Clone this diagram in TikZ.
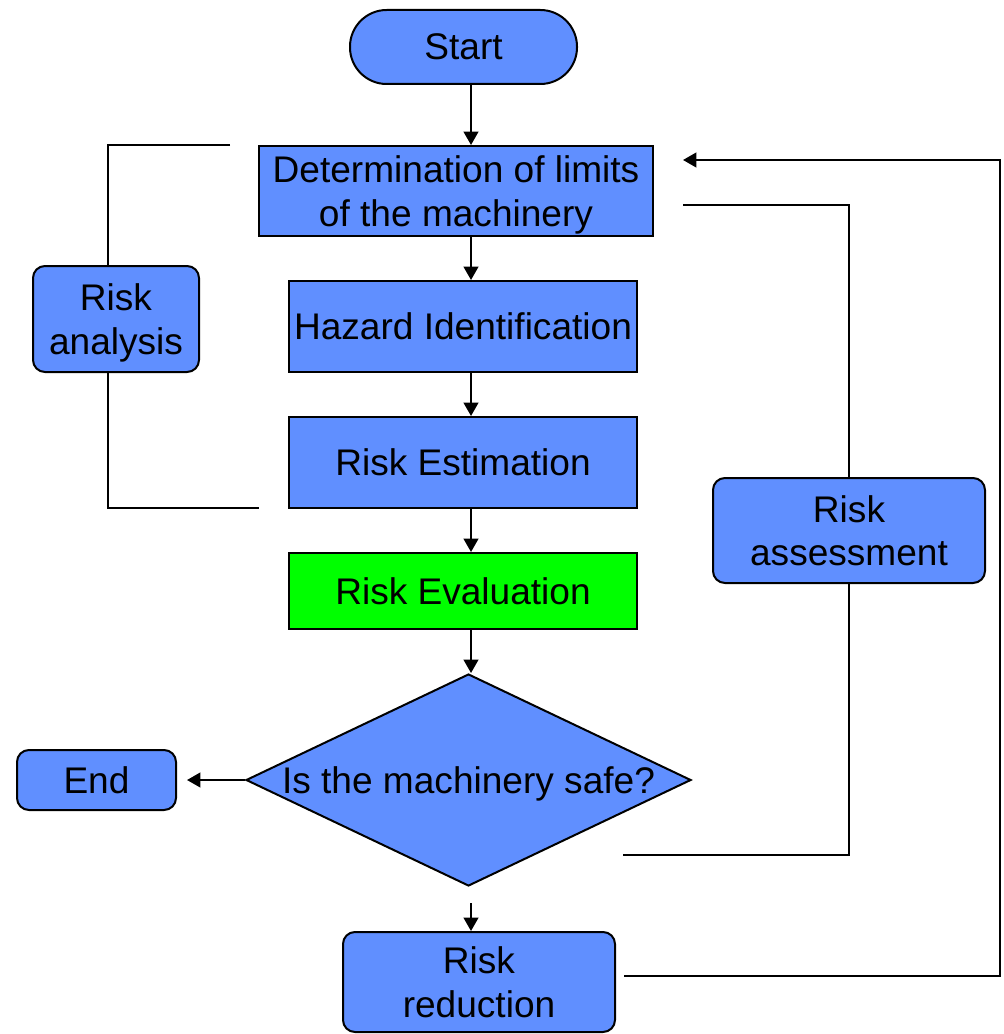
\documentclass[tikz,border=0pt]{standalone}
\usepackage{fontspec}
\setmainfont{Liberation Sans}
\usetikzlibrary{shapes.geometric,arrows.meta}
\definecolor{boxblue}{RGB}{96,143,255}
\definecolor{boxgreen}{RGB}{0,255,0}
\begin{document}
\begin{tikzpicture}[x=0.75pt,y=-0.75pt,
  every node/.style={font=\fontsize{27.8}{32.5}\selectfont},
  base/.style={draw=black, line width=1.5pt, fill=boxblue, inner sep=0pt, align=center, text depth=0pt},
  sqbox/.style={base},
  rbox/.style={base, rounded corners=9pt},
  conn/.style={line width=1.5pt, draw=black},
  arr/.style={conn, -{Triangle[width=11pt,length=10pt]}},
]
\useasboundingbox (0,0) rectangle (1003,1034);

\node[base, rounded corners=27.5pt, minimum width=227*0.75pt, minimum height=74*0.75pt] (start) at (463.5,47) {Start};
\node[sqbox, minimum width=394*0.75pt, minimum height=90*0.75pt] (det) at (456,191) {Determination of limits\\of the machinery};
\node[sqbox, minimum width=348*0.75pt, minimum height=91*0.75pt] (haz) at (463,326.5) {Hazard Identification};
\node[sqbox, minimum width=348*0.75pt, minimum height=91*0.75pt] (est) at (463,462.5) {Risk Estimation};
\node[sqbox, fill=boxgreen, minimum width=348*0.75pt, minimum height=76*0.75pt] (eval) at (463,591) {Risk Evaluation};
\node[base, diamond, aspect=2.1, minimum width=445*0.75pt, minimum height=212*0.75pt] (dia) at (468.5,780) {\makebox[0pt]{Is the machinery safe?}};
\node[rbox, minimum width=159*0.75pt, minimum height=60*0.75pt] (end) at (96.5,780) {End};
\node[rbox, minimum width=272*0.75pt, minimum height=100*0.75pt] (red) at (479,982) {Risk\\reduction};
\node[rbox, minimum width=166*0.75pt, minimum height=106*0.75pt] (ana) at (116,319) {Risk\\analysis};
\node[rbox, minimum width=272*0.75pt, minimum height=105*0.75pt] (ass) at (849,530.5) {Risk\\assessment};

\coordinate (ax) at (471,0);
\coordinate (lx) at (108,0);
\coordinate (lt) at (230,145);
\coordinate (lb) at (259,508);
\coordinate (rt) at (683,205);
\coordinate (rb) at (623,855);
\coordinate (fb1) at (1000,976);
\coordinate (fb2) at (1000,160);
\coordinate (fbend) at (683,160);

\draw[arr] (start.south -| ax) -- (det.north -| ax);
\draw[arr] (det.south -| ax) -- (haz.north -| ax);
\draw[arr] (haz.south -| ax) -- (est.north -| ax);
\draw[arr] (est.south -| ax) -- (eval.north -| ax);
\draw[arr] (eval.south -| ax) -- (dia.north -| ax);
\draw[arr, shorten >=7.5pt] (dia.west) -- (end.east);
\draw[arr, shorten <=12pt] (dia.south -| ax) -- (red.north -| ax);
\draw[arr, shorten <=6pt] (red.east |- fb1) -- (fb1) -- (fb2) -- (fbend);
\draw[conn] (lt) -- (lt -| lx) -- (ana.north -| lx);
\draw[conn] (ana.south -| lx) -- (lb -| lx) -- (lb);
\draw[conn] (rt) -| (ass.north);
\draw[conn] (ass.south) |- (rb);
\end{tikzpicture}
\end{document}
